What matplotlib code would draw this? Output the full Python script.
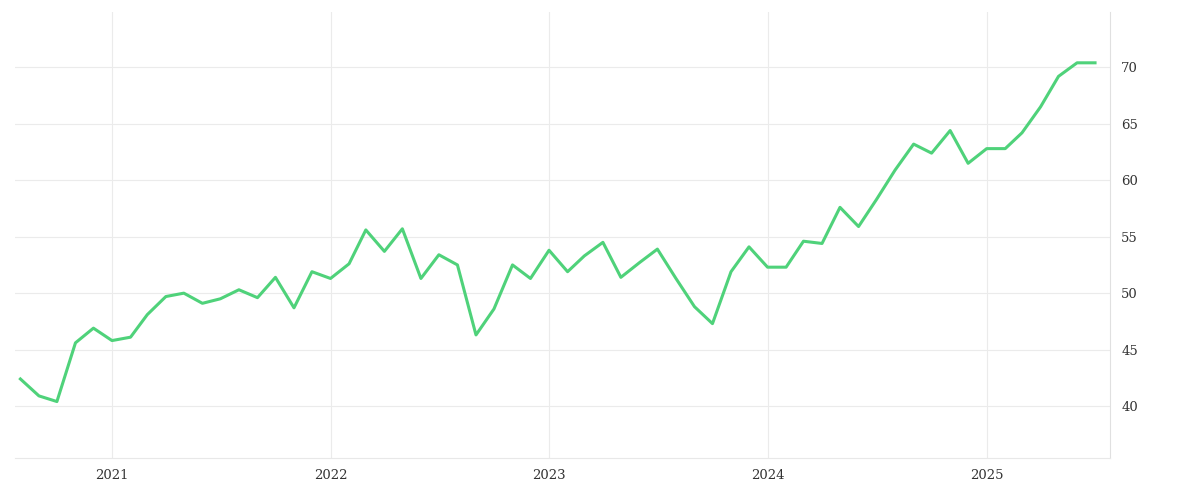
import matplotlib
matplotlib.use("Agg")
import matplotlib.pyplot as plt
import matplotlib.dates as mdates
import pandas as pd

dates = pd.date_range("2020-08-01", periods=60, freq="MS")
values = [42.4, 40.9, 40.4, 45.6, 46.9, 45.8, 46.1, 48.1, 49.7, 50.0,
          49.1, 49.5, 50.3, 49.6, 51.4, 48.7, 51.9, 51.3, 52.6, 55.6,
          53.7, 55.7, 51.3, 53.4, 52.5, 46.3, 48.6, 52.5, 51.3, 53.8,
          51.9, 53.3, 54.5, 51.4, 52.7, 53.9, 51.3, 48.8, 47.3, 51.9,
          54.1, 52.3, 52.3, 54.6, 54.4, 57.6, 55.9, 58.3, 60.9, 63.2,
          62.4, 64.4, 61.5, 62.8, 62.8, 64.2, 66.5, 69.2, 70.4, 70.4]
yticks = [40, 45, 50, 55, 60, 65, 70]

fig = plt.figure(figsize=(12, 5), dpi=100)
ax = fig.add_axes([0.0125, 0.084, 0.9125, 0.892])
ax.plot(dates, values, color="#4fd27a", lw=2.2)
ax.set_ylim(35.4, 74.9)
ax.set_xlim(pd.Timestamp("2020-07-23"), pd.Timestamp("2025-07-26"))
ax.set_yticks(yticks)
ax.xaxis.set_major_locator(mdates.YearLocator())
ax.xaxis.set_major_formatter(mdates.DateFormatter("%Y"))
ax.yaxis.tick_right()
ax.grid(True, color="#ebebeb", lw=0.8)
for s in ["top", "left"]:
    ax.spines[s].set_visible(False)
ax.spines["right"].set_color("#e0e0e0")
ax.spines["bottom"].set_color("#e8e8e8")
ax.tick_params(length=0, labelsize=9.5, colors="#333333", pad=8)
for lab in ax.get_xticklabels() + ax.get_yticklabels():
    lab.set_family("DejaVu Serif")
fig.savefig("out.png")
